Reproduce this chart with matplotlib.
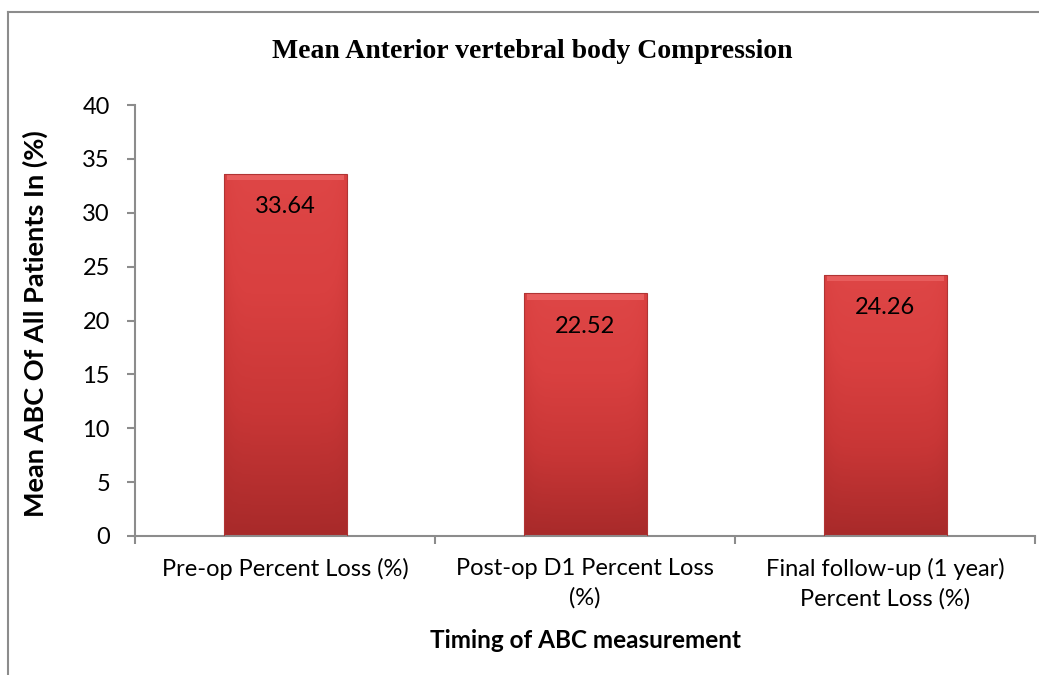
import matplotlib
matplotlib.use("Agg")
import matplotlib.pyplot as plt
import numpy as np
from matplotlib.colors import LinearSegmentedColormap

categories = ["Pre-op Percent Loss (%)", "Post-op D1 Percent Loss\n(%)",
              "Final follow-up (1 year)\nPercent Loss (%)"]
values = [33.64, 22.52, 24.26]
value_labels = ["33.64", "22.52", "24.26"]
yticks = [0, 5, 10, 15, 20, 25, 30, 35, 40]

title = "Mean Anterior vertebral body Compression"
ylabel = "Mean ABC Of All Patients In (%)"
xlabel = "Timing of ABC measurement"

font = ["Lato", "DejaVu Sans"]

fig = plt.figure(figsize=(10.39, 6.75), dpi=100)
fig.patch.set_facecolor("white")

# outer frame lines (top and left)
fig.add_artist(plt.Line2D([8/1039, 1], [1-12/675, 1-12/675], color="#8c8c8c", lw=1.5,
                          transform=fig.transFigure))
fig.add_artist(plt.Line2D([8/1039, 8/1039], [0, 1-12/675], color="#8c8c8c", lw=1.5,
                          transform=fig.transFigure))

ax = fig.add_axes([135/1039, 1-536/675, 900/1039, (536-105)/675])
x = np.arange(len(categories))
bars = ax.bar(x, values, width=0.41, color="#d63c3c", edgecolor="none", linewidth=0, zorder=2)

# gradient shading on each bar
cmap = LinearSegmentedColormap.from_list("redgrad", ["#a82a2a", "#c83636", "#d94040", "#de4646"])
for b in bars:
    x0, y0 = b.get_x(), b.get_y()
    w, h = b.get_width(), b.get_height()
    grad = np.linspace(0, 1, 256).reshape(-1, 1)
    horiz = 1 - 0.3 * (np.abs(np.linspace(-1, 1, 64)) ** 8)
    img = grad * horiz.reshape(1, -1)
    im = ax.imshow(img, extent=[x0, x0 + w, y0, y0 + h], origin="lower", aspect="auto",
                   cmap=cmap, vmin=0, vmax=1, zorder=2.5, interpolation="bilinear")
    im.set_clip_path(b)
    # soft top bevel
    ax.add_patch(plt.Rectangle((x0 + 0.01, y0 + h - 0.6), w - 0.02, 0.6, facecolor="#ec6464",
                               edgecolor="none", alpha=0.8, zorder=2.6))
    ax.add_patch(plt.Rectangle((x0, y0), w, h, facecolor="none",
                               edgecolor="#b03434", linewidth=0.8, zorder=2.7))

for b, lab in zip(bars, value_labels):
    ax.annotate(lab, (b.get_x() + b.get_width() / 2, b.get_height()),
                xytext=(0, -24), textcoords="offset points", ha="center", va="center",
                fontsize=17, family=font, color="black", zorder=3)

ax.set_xlim(-0.5, len(categories) - 0.5)
ax.set_ylim(0, 40)
ax.set_yticks(yticks)
ax.set_yticklabels([str(t) for t in yticks], fontsize=17, family=font, color="black")
ax.set_xticks(x)
ax.set_xticklabels(categories, fontsize=17, family=font, linespacing=1.45, color="black")
ax.set_xticks(np.arange(-0.5, len(categories)), minor=True)
ax.tick_params(axis="x", which="major", length=0, pad=16)
ax.tick_params(axis="x", which="minor", length=6, color="#8c8c8c", width=1.5, direction="out")
ax.tick_params(axis="y", length=6, color="#8c8c8c", width=1.5, direction="out", pad=12)

for s in ["top", "right"]:
    ax.spines[s].set_visible(False)
for s in ["left", "bottom"]:
    ax.spines[s].set_color("#8c8c8c")
    ax.spines[s].set_linewidth(1.5)

ax.set_ylabel(ylabel, fontsize=19.5, fontweight="bold", family=font)
ax.yaxis.set_label_coords(-0.111, 0.492)
ax.set_xlabel(xlabel, fontsize=17.5, fontweight="bold", family=font)
ax.xaxis.set_label_coords(0.5, -0.2436)
ax.xaxis.label.set_va("center")
ax.yaxis.label.set_va("center")

fig.text(532/1039, 1-52/675, title, ha="center", va="center", fontsize=20,
         fontweight="bold", family="Liberation Serif")

fig.savefig("out.png", dpi=100, facecolor="white")
